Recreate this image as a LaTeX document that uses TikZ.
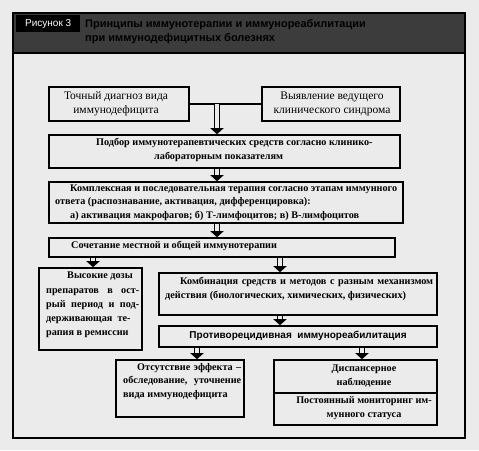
\documentclass[tikz,border=0pt]{standalone}
\usepackage{fontspec}
\setmainfont{Liberation Serif}
\newfontfamily\arial{Liberation Sans}
\usetikzlibrary{arrows.meta}
\definecolor{bg}{HTML}{EBEBEB}
\definecolor{hdr}{HTML}{3C3C3C}
\tikzset{
  box/.style={draw, line width=1.6pt, fill=bg, inner sep=0pt},
  txt/.style={inner sep=0pt, font=\bfseries\fontsize{10.2}{13.5}\selectfont},
  txtr/.style={inner sep=0pt, font=\fontsize{11.5}{14}\selectfont, align=center},
  arr/.style={double=bg, double distance=3.6pt, line width=1.5pt, -{Triangle[width=13pt,length=6pt]}},
}
\begin{document}
\begin{tikzpicture}[x=1pt,y=-1pt]
\useasboundingbox (0,0) rectangle (479,450);
\fill[bg] (0,0) rectangle (479,450);
% frame and header
\fill[hdr] (13,13) rectangle (465,53);
\draw[line width=1.5pt] (13,13) rectangle (465,438);
\draw[line width=1.5pt] (13,53) -- (465,53);
\node[fill=black, text=white, font=\arial\fontsize{10}{11}\selectfont, inner sep=0pt,
      minimum width=64pt, minimum height=17pt, anchor=north west] (fig) at (16,15) {Рисунок 3};
\node[anchor=north west, align=left, inner sep=0pt,
      font=\arial\bfseries\fontsize{11}{14}\selectfont] (title) at (85,19)
  {Принципы иммунотерапии и иммунореабилитации\\при иммунодефицитных болезнях};
% boxes
\node[box, minimum width=140pt, minimum height=34pt] (b1) at (119,104) {};
\node[txtr] (t1) at (116,104) {Точный диагноз вида\\иммунодефицита};
\node[box, minimum width=138pt, minimum height=34pt] (b2) at (331,104) {};
\node[txtr] (t2) at (332,104) {Выявление ведущего\\клинического синдрома};
\node[box, minimum width=351pt, minimum height=33pt] (b3) at (224.5,151.5) {};
\node[txt, align=left, anchor=north west] (t3) at (96,138)
  {Подбор иммунотерапевтических средств согласно клинико-\\\hspace*{58pt}лабораторным показателям};
\node[box, minimum width=354pt, minimum height=41pt] (b4) at (226,202.5) {};
\node[txt, align=left, anchor=north west] (t4) at (55,184.5)
  {\hspace*{15pt}Комплексная и последовательная терапия согласно этапам иммунного\\
   ответа (распознавание, активация, дифференцировка):\\
   \hspace*{15pt}а) активация макрофагов; б) Т-лимфоцитов; в) В-лимфоцитов};
\node[box, minimum width=346pt, minimum height=19pt] (b5) at (222,247.5) {};
\node[txt, anchor=west] (t5) at (71,246) {Сочетание местной и общей иммунотерапии};
\node[box, minimum width=103pt, minimum height=82pt] (b6) at (90.5,309) {};
\node[txt, align=left, anchor=north west, font=\bfseries\fontsize{10.2}{14.2}\selectfont] (t6) at (46,272)
  {\hspace*{21pt}Высокие дозы\\
   \makebox[93pt][s]{препаратов в ост-}\\
   \makebox[93pt][s]{рый период и под-}\\
   держивающая\ \ те-\\
   рапия в ремиссии};
\node[box, minimum width=278pt, minimum height=42pt] (b7) at (298,294) {};
\node[txt, align=left, anchor=north west] (t7) at (165,277)
  {\hspace*{15pt}\makebox[253pt][s]{Комбинация средств и методов с разным механизмом}\\
   действия (биологических, химических, физических)};
\node[box, minimum width=278pt, minimum height=21pt] (b8) at (298,336.5) {};
\node[inner sep=0pt, font=\arial\bfseries\fontsize{10}{12}\selectfont] (t8) at (298,336)
  {Противорецидивная\ \ иммунореабилитация};
\node[box, minimum width=128pt, minimum height=57pt] (b9) at (180,388.5) {};
\node[txt, align=left, anchor=north west] (t9) at (123,363)
  {\hspace*{14pt}\makebox[104pt][s]{Отсутствие эффекта –}\\
   \makebox[118pt][s]{обследование, уточнение}\\
   вида иммунодефицита};
\node[box, minimum width=163pt, minimum height=33pt] (b10) at (355.5,376.5) {};
\node[txt, align=center] (t10) at (364,376) {Диспансерное\\наблюдение};
\node[box, minimum width=163pt, minimum height=32pt] (b11) at (355.5,409) {};
\node[txt, align=center] (t11) at (364,408) {Постоянный мониторинг им-\\мунного статуса};
% connectors
\coordinate (ax1) at (217,0);
\coordinate (ax2) at (93,0);
\coordinate (ax3) at (280,0);
\coordinate (ax4) at (197,0);
\coordinate (ax5) at (362,0);
\draw[line width=2pt] (b1.east) -- (b2.west);
\draw[arr] (b1.east -| ax1) -- (b3.north -| ax1);
\draw[arr] (b3.south -| ax1) -- (b4.north -| ax1);
\draw[arr] (b4.south -| ax1) -- (b5.north -| ax1);
\draw[arr] (b5.south -| ax2) -- (b6.north -| ax2);
\draw[arr] (b5.south -| ax3) -- (b7.north -| ax3);
\draw[arr] (b7.south -| ax3) -- (b8.north -| ax3);
\draw[arr] (b8.south -| ax4) -- (b9.north -| ax4);
\draw[arr] (b8.south -| ax5) -- (b10.north -| ax5);
\end{tikzpicture}
\end{document}
